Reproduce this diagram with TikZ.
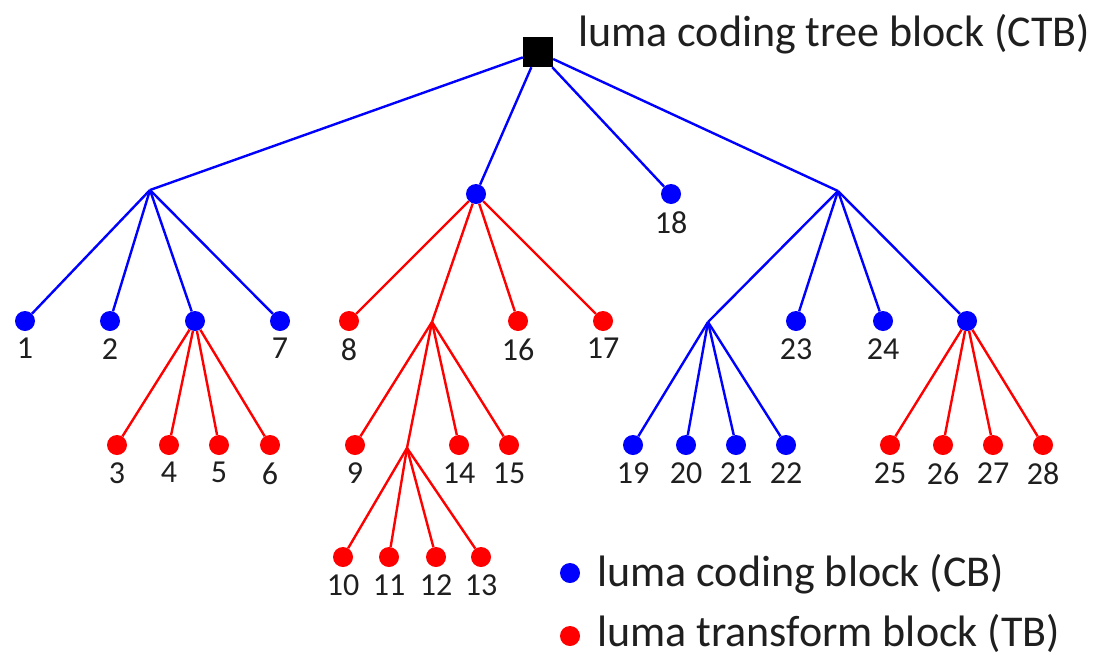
\documentclass[tikz,border=0pt]{standalone}
\usepackage{fontspec}
\setmainfont{Carlito}
\begin{document}
\begin{tikzpicture}[x=1pt,y=-1pt,
  cb/.style={circle,fill=blue,inner sep=0pt,minimum size=20pt},
  tb/.style={circle,fill=red,inner sep=0pt,minimum size=20pt},
  bl/.style={draw=blue,line width=2.4pt},
  rl/.style={draw=red,line width=2.4pt},
  big/.style={font=\fontsize{44}{44}\selectfont,inner sep=0pt,text=black!88},
  every label/.style={font=\fontsize{32}{32}\selectfont,inner sep=0pt,text=black!88},
  label distance=7pt]
\useasboundingbox (0,0) rectangle (1097,656);
% root
\node[fill=black,minimum size=30pt,inner sep=0pt] (root) at (538,52) {};
\node[big,anchor=base west] (title) at (578,46) {luma coding tree block (CTB)};
% level 1
\coordinate (A) at (150,190);
\node[cb] (B) at (476,194) {};
\node[cb,label=below:18] (n18) at (671,194) {};
\coordinate (D) at (838,191);
% level 2
\node[cb,label=below:1] (n1) at (25,321) {};
\node[cb,label=below:2] (n2) at (110,321) {};
\node[cb] (C) at (195,321) {};
\node[cb,label=below:7] (n7) at (280,321) {};
\node[tb,label=below:8] (n8) at (349,321) {};
\coordinate (E) at (432,322);
\node[tb,label=below:16] (n16) at (518,321) {};
\node[tb,label=below:17] (n17) at (603,321) {};
\coordinate (F) at (708,322);
\node[cb,label=below:23] (n23) at (796,321) {};
\node[cb,label=below:24] (n24) at (883,321) {};
\node[cb] (G) at (967,321) {};
% level 3
\node[tb,label=below:3] (n3) at (117,445) {};
\node[tb,label=below:4] (n4) at (169,445) {};
\node[tb,label=below:5] (n5) at (219,445) {};
\node[tb,label=below:6] (n6) at (270,445) {};
\node[tb,label=below:9] (n9) at (355,445) {};
\coordinate (H) at (407,448);
\node[tb,label=below:14] (n14) at (459,445) {};
\node[tb,label=below:15] (n15) at (509,445) {};
\node[cb,label=below:19] (n19) at (633,445) {};
\node[cb,label=below:20] (n20) at (686,445) {};
\node[cb,label=below:21] (n21) at (736,445) {};
\node[cb,label=below:22] (n22) at (786,445) {};
\node[tb,label=below:25] (n25) at (890,445) {};
\node[tb,label=below:26] (n26) at (943,445) {};
\node[tb,label=below:27] (n27) at (993,445) {};
\node[tb,label=below:28] (n28) at (1043,445) {};
% level 4
\node[tb,label=below:10] (n10) at (343,557) {};
\node[tb,label=below:11] (n11) at (389,557) {};
\node[tb,label=below:12] (n12) at (436,557) {};
\node[tb,label=below:13] (n13) at (481,557) {};
% edges
\draw[bl] (root) -- (A);
\draw[bl] (root) -- (B);
\draw[bl] (root) -- (n18);
\draw[bl] (root) -- (D);
\foreach \t in {n1,n2,C,n7} \draw[bl] (A) -- (\t);
\foreach \t in {n3,n4,n5,n6} \draw[rl] (C) -- (\t);
\foreach \t in {n8,E,n16,n17} \draw[rl] (B) -- (\t);
\foreach \t in {n9,H,n14,n15} \draw[rl] (E) -- (\t);
\foreach \t in {n10,n11,n12,n13} \draw[rl] (H) -- (\t);
\foreach \t in {F,n23,n24,G} \draw[bl] (D) -- (\t);
\foreach \t in {n19,n20,n21,n22} \draw[bl] (F) -- (\t);
\foreach \t in {n25,n26,n27,n28} \draw[rl] (G) -- (\t);
% legend
\node[cb] (lcb) at (570,573) {};
\node[big,anchor=base west] (lcbt) at (597,586) {luma coding block (CB)};
\node[tb] (ltb) at (570,636) {};
\node[big,anchor=base west] (ltbt) at (597,646) {luma transform block (TB)};
\end{tikzpicture}
\end{document}
